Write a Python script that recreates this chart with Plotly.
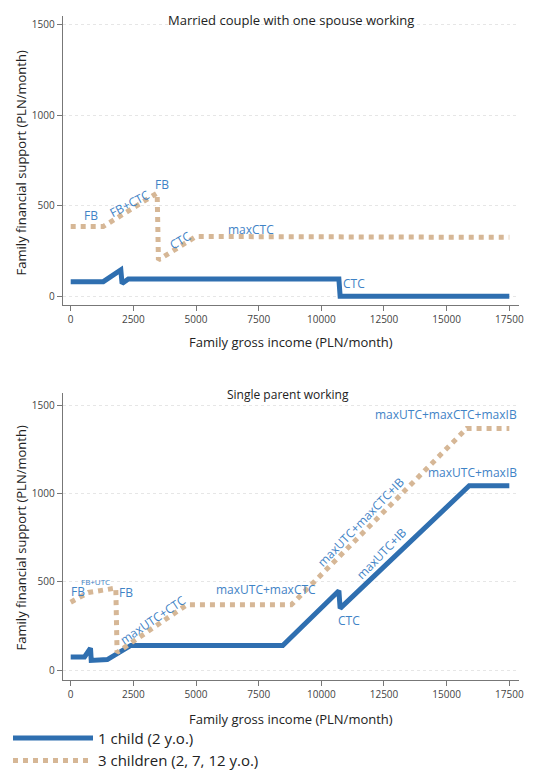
import plotly.graph_objects as go

# Top panel: married couple, one spouse working
top1_x = [0, 1300, 2000, 2050, 2300, 10700, 10750, 17500]
top1_y = [80, 80, 145, 70, 95, 95, 0, 0]
top3_x = [0, 1300, 3450, 3500, 5000, 17500]
top3_y = [385, 385, 570, 200, 330, 325]
# Bottom panel: single parent working
bot1_x = [0, 550, 790, 820, 1460, 2400, 8460, 10700, 10750, 15900, 17500]
bot1_y = [75, 75, 125, 55, 60, 140, 140, 450, 350, 1045, 1045]
bot3_x = [0, 700, 1800, 1850, 4630, 8800, 15800, 17500]
bot3_y = [385, 440, 465, 100, 370, 370, 1370, 1370]

blue = "#2f6fb0"
tan = "#d6b796"
lab = "#3f83c6"
font = "Open Sans"

fig = go.Figure()
for xs, ys, col, dash, name, ax, show in [
    (top1_x, top1_y, blue, "solid", "1 child (2 y.o.)", "", True),
    (top3_x, top3_y, tan, "dot", "3 children (2, 7, 12 y.o.)", "", True),
    (bot1_x, bot1_y, blue, "solid", "1 child (2 y.o.)", "2", False),
    (bot3_x, bot3_y, tan, "dot", "3 children (2, 7, 12 y.o.)", "2", False),
]:
    fig.add_trace(go.Scatter(x=xs, y=ys, mode="lines", name=name, showlegend=show,
                             line=dict(color=col, width=5, dash=dash),
                             xaxis="x" + ax, yaxis="y" + ax))

axcommon = dict(showline=True, linecolor="#777", ticks="outside", ticklen=5, tickcolor="#777",
                tickfont=dict(size=10, color="#444"), zeroline=False, tickformat="d")
xt = [0, 2500, 5000, 7500, 10000, 12500, 15000, 17500]
fig.update_layout(
    width=540, height=778, margin=dict(l=0, r=0, t=0, b=0),
    plot_bgcolor="white", paper_bgcolor="white", font=dict(family=font),
    xaxis=dict(domain=[0.102, 0.954], range=[-320, 17900], tickvals=xt,
               showgrid=False, anchor="y", **axcommon),
    yaxis=dict(domain=[0.618, 0.99], range=[-50, 1550], tickvals=[0, 500, 1000, 1500], anchor="x",
               showgrid=True, gridcolor="#e6e6e6", griddash="dot", **axcommon),
    xaxis2=dict(domain=[0.102, 0.954], range=[-320, 17900], tickvals=xt,
                showgrid=False, anchor="y2", **axcommon),
    yaxis2=dict(domain=[0.136, 0.505], range=[-57, 1570], tickvals=[0, 500, 1000, 1500], anchor="x2",
                showgrid=True, gridcolor="#e6e6e6", griddash="dot", **axcommon),
    legend=dict(orientation="h", x=0.0, xanchor="left", y=0.012, yanchor="bottom",
                font=dict(size=15, color="#222"), entrywidthmode="pixels", entrywidth=260,
                itemwidth=80),
)

def ann(text, x, y, ax="", angle=0, size=12, **kw):
    fig.add_annotation(text=text, x=x, y=y, xref="x" + ax, yref="y" + ax, showarrow=False,
                       textangle=angle, font=dict(size=size, color=lab, family=font), **kw)

ann("FB", 800, 445)
ann("FB+CTC", 2350, 515, angle=-28)
ann("FB", 3650, 615)
ann("CTC", 4350, 310, angle=-30)
ann("maxCTC", 7200, 370)
ann("CTC", 11300, 70)
ann("FB", 300, 445, "2")
ann("FB+UTC", 1000, 505, "2", size=8)
ann("FB", 2200, 440, "2")
ann("maxUTC+CTC", 3300, 285, "2", angle=-34)
ann("maxUTC+maxCTC", 7800, 455, "2")
ann("maxUTC+maxCTC+IB", 11600, 840, "2", angle=-46)
ann("maxUTC+IB", 12400, 660, "2", angle=-46)
ann("CTC", 11100, 280, "2")
ann("maxUTC+maxCTC+maxIB", 17900, 1450, "2", xanchor="right")
ann("maxUTC+maxIB", 17900, 1120, "2", xanchor="right")

def paper(text, x, y, size=13, angle=0, color="#222"):
    fig.add_annotation(text=text, x=x, y=y, xref="paper", yref="paper", showarrow=False,
                       xanchor="center", yanchor="middle",
                       textangle=angle, font=dict(size=size, color=color, family=font))

paper("Married couple with one spouse working", 0.528, 1 - 12 / 778, size=13)
paper("Single parent working", 0.522, 1 - 386 / 778, size=12)
paper("Family gross income (PLN/month)", 0.528, 1 - 334 / 778, size=13)
paper("Family gross income (PLN/month)", 0.528, 1 - 711 / 778, size=13)
paper("Family financial support (PLN/month)", 0.025, 1 - 155 / 778, size=13, angle=-90)
paper("Family financial support (PLN/month)", 0.025, 1 - 530 / 778, size=13, angle=-90)

fig.write_html("out.html")
